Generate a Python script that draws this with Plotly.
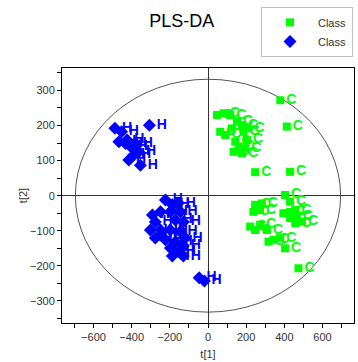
import plotly.graph_objects as go

# Scores for class C (t[1], t[2])
c_t1 = [379, 413, 430, 247, 47, 82, 117, 64, 90, 125, 152, 178, 143, 160, 195, 134, 178, 186, 204, 212,
        404, 430, 247, 282, 238, 273, 395, 430, 457, 430, 465, 457, 492, 221, 247, 273, 309, 317, 343, 378, 404, 474]
c_t2 = [272, 197, 68, 67, 230, 235, 230, 182, 173, 192, 211, 201, 154, 140, 135, 125, 121, 182, 159, 192,
        2, -17, -26, -22, -46, -41, -50, -46, -41, -64, -60, -79, -74, -88, -98, -83, -98, -131, -126, -121, -150, -207]

# Scores for class H (t[1], t[2])
h_t1 = [-488, -307, -453, -467, -432, -406, -380, -363, -415, -354, -389, -424,
        -223, -187, -155, -249, -197, -145, -291, -276, -171, -129, -302, -249, -197, -145, -119,
        -276, -223, -171, -129, -197, -155, -187, -129, -249, -46, -19]
h_t2 = [192, 201, 182, 154, 149, 140, 149, 125, 102, 87, 116, 159,
        -12, -26, -21, -46, -46, -46, -55, -75, -69, -75, -98, -98, -98, -103, -121,
        -121, -126, -132, -143, -149, -160, -172, -172, -112, -234, -243]

# Hotelling T2 ellipse semi-axes
ell_a = 695
ell_b = 332

font_family = "Liberation Sans, Arial, sans-serif"

fig = go.Figure()
fig.add_trace(go.Scatter(
    x=c_t1, y=c_t2, mode="markers+text", name="Class",
    text=["C"] * len(c_t1), textposition="middle right",
    textfont=dict(family=font_family, size=14, color="#00FF00", weight="bold"),
    marker=dict(symbol="square", size=8, color="#00FF00"),
))
fig.add_trace(go.Scatter(
    x=h_t1, y=h_t2, mode="markers+text", name="Class",
    text=["H"] * len(h_t1), textposition="middle right",
    textfont=dict(family=font_family, size=14, color="#0000FF", weight="bold"),
    marker=dict(symbol="diamond", size=10, color="#0000FF"),
))

fig.add_shape(type="circle", xref="x", yref="y",
              x0=-ell_a, x1=ell_a, y0=-ell_b, y1=ell_b,
              line=dict(color="#555555", width=1), layer="below")

axis_common = dict(
    showgrid=False, zeroline=True, zerolinecolor="#333333", zerolinewidth=1,
    showline=True, linecolor="#000000", linewidth=1, mirror=True,
    ticks="outside", ticklen=4, tickcolor="#000000",
    tickfont=dict(family=font_family, size=11, color="#333333"),
)

fig.update_xaxes(range=[-765, 765], dtick=200, tick0=0,
                 minor=dict(dtick=100, ticks="outside", ticklen=4, tickcolor="#000000"),
                 title=dict(text="t[1]", font=dict(family=font_family, size=11, color="#333333"), standoff=8),
                 **axis_common)
fig.update_yaxes(range=[-363, 364], dtick=100, tick0=0,
                 minor=dict(dtick=50, ticks="outside", ticklen=4, tickcolor="#000000"),
                 title=dict(text="t[2]", font=dict(family=font_family, size=11, color="#333333"), standoff=0),
                 **axis_common)

fig.update_layout(
    width=358, height=362,
    margin=dict(l=62, r=4, t=68, b=39, autoexpand=False),
    paper_bgcolor="white", plot_bgcolor="white",
    title=dict(text="PLS-DA", x=0.508, xref="container", xanchor="center",
               y=0.942, yref="container", yanchor="middle",
               font=dict(family=font_family, size=18, color="#000000")),
    legend=dict(x=0.729, y=0.981, xref="container", yref="container",
                xanchor="left", yanchor="top",
                bordercolor="#c0c0c0", borderwidth=1, bgcolor="white",
                font=dict(family=font_family, size=11, color="#333333"),
                itemwidth=46, tracegroupgap=0),
    showlegend=True,
)

fig.write_html("out.html")
